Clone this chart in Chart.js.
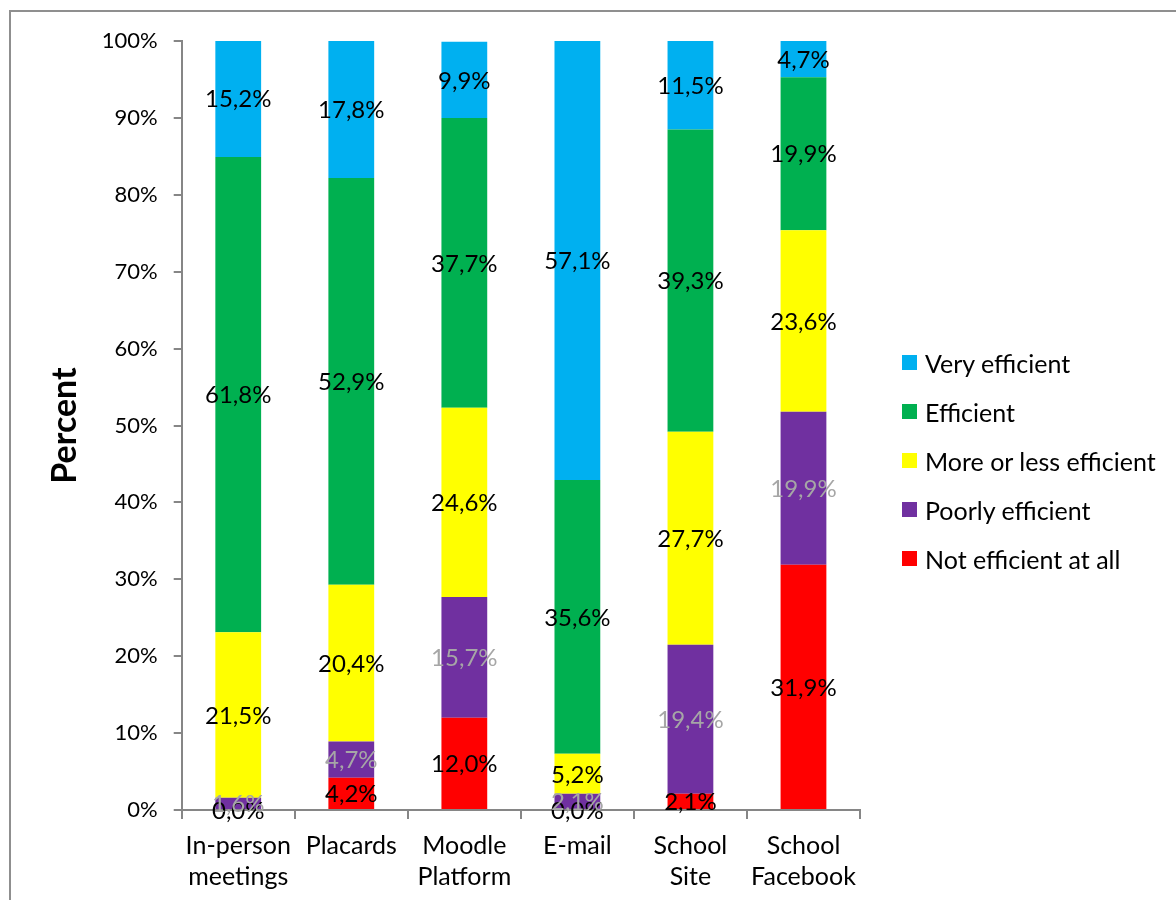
<!DOCTYPE html>
<html>
<head>
<meta charset="utf-8">
<script src="https://cdn.jsdelivr.net/npm/chart.js@4/dist/chart.umd.min.js"></script>
<style>
  html, body { margin: 0; padding: 0; background: #fff; overflow: hidden; }
  #wrap { position: relative; width: 1176px; height: 900px; overflow: hidden; }
  #frame {
    position: absolute; left: 9px; top: 10px; width: 1300px; height: 1000px;
    border: 2px solid #8f8f8f; box-sizing: border-box;
  }
  canvas { position: absolute; left: 0; top: 0; }
  #legend {
    position: absolute; left: 902px; top: 338px;
    font-family: Lato, sans-serif; font-size: 25px; color: #000;
  }
  #legend .item { height: 49px; display: flex; align-items: center; white-space: nowrap; }
  #legend .swatch { width: 15px; height: 15px; margin-right: 8px; flex: none; }
</style>
</head>
<body>
<div id="wrap">
  <div id="frame"></div>
  <canvas id="chart" width="1176" height="903"></canvas>
  <div id="legend"></div>
</div>
<script>
/* Stacked 100% bars: how efficient each channel is rated. */

const channels = [
  ['In-person', 'meetings'],
  'Placards',
  ['Moodle', 'Platform'],
  'E-mail',
  ['School', 'Site'],
  ['School', 'Facebook'],
];

// series, bottom of the stack first
const notEfficient  = [0.0, 4.2, 12.0, 0.0, 2.1, 31.9];
const poorly        = [1.6, 4.7, 15.7, 2.1, 19.4, 19.9];
const moreOrLess    = [21.5, 20.4, 24.6, 5.2, 27.7, 23.6];
const efficient     = [61.8, 52.9, 37.7, 35.6, 39.3, 19.9];
const veryEfficient = [15.2, 17.8, 9.9, 57.1, 11.5, 4.7];

const yTicks = [0, 10, 20, 30, 40, 50, 60, 70, 80, 90, 100];

const FONT = 'Lato';
const AXIS_GREY = '#868686';

// value written in the middle of each segment, decimal comma
const segmentLabels = {
  id: 'segmentLabels',
  afterDatasetsDraw(chart) {
    const ctx = chart.ctx;
    ctx.save();
    ctx.font = `24px ${FONT}`;
    ctx.textAlign = 'center';
    ctx.textBaseline = 'middle';
    chart.data.datasets.forEach((ds, i) => {
      const meta = chart.getDatasetMeta(i);
      meta.data.forEach((bar, j) => {
        const p = bar.getProps(['x', 'y', 'base'], true);
        ctx.fillStyle = ds.labelColor;
        const txt = ds.data[j].toFixed(1).replace('.', ',') + '%';
        ctx.fillText(txt, p.x, (p.y + p.base) / 2 + 1);
      });
    });
    ctx.restore();
  }
};

const mk = (label, data, color, labelColor = '#000') => ({
  label, data,
  backgroundColor: color,
  borderWidth: 0,
  barPercentage: 0.405,
  categoryPercentage: 1,
  labelColor,
});

const chart = new Chart(document.getElementById('chart'), {
  type: 'bar',
  data: {
    labels: channels,
    datasets: [
      mk('Not efficient at all', notEfficient, '#ff0000'),
      mk('Poorly efficient', poorly, '#7030a0', '#a6a6a6'),
      mk('More or less efficient', moreOrLess, '#ffff00'),
      mk('Efficient', efficient, '#00b050'),
      mk('Very efficient', veryEfficient, '#00b0f0'),
    ],
  },
  options: {
    responsive: false,
    animation: false,
    layout: { padding: { left: 41, top: 41, bottom: 0, right: 316 } },
    plugins: {
      tooltip: { enabled: false },
      legend: { display: false },
    },
    scales: {
      x: {
        stacked: true,
        grid: { display: true, drawOnChartArea: false, offset: true, tickLength: 9, color: AXIS_GREY, lineWidth: 2 },
        border: { color: AXIS_GREY, width: 2 },
        ticks: { color: '#000', padding: 11, maxRotation: 0, font: { family: FONT, size: 25, lineHeight: 1.24 } },
      },
      y: {
        stacked: true,
        min: 0, max: 100,
        afterBuildTicks: (s) => { s.ticks = yTicks.map(v => ({ value: v })); },
        grid: { display: true, drawOnChartArea: false, tickLength: 8, color: AXIS_GREY, lineWidth: 2 },
        border: { color: AXIS_GREY, width: 2 },
        ticks: { color: '#000', padding: 16, callback: (v) => v + '%', font: { family: FONT, size: 22 } },
        title: {
          display: true, text: 'Percent', color: '#000',
          padding: { top: 4, bottom: 0 },
          font: { family: FONT, size: 34, weight: 'bold' },
        },
      },
    },
  },
  plugins: [segmentLabels],
});

// legend listed top of the stack first
const legend = document.getElementById('legend');
[...chart.data.datasets].reverse().forEach(ds => {
  const item = document.createElement('div');
  item.className = 'item';
  const sw = document.createElement('span');
  sw.className = 'swatch';
  sw.style.background = ds.backgroundColor;
  item.appendChild(sw);
  item.appendChild(document.createTextNode(ds.label));
  legend.appendChild(item);
});
</script>
</body>
</html>
